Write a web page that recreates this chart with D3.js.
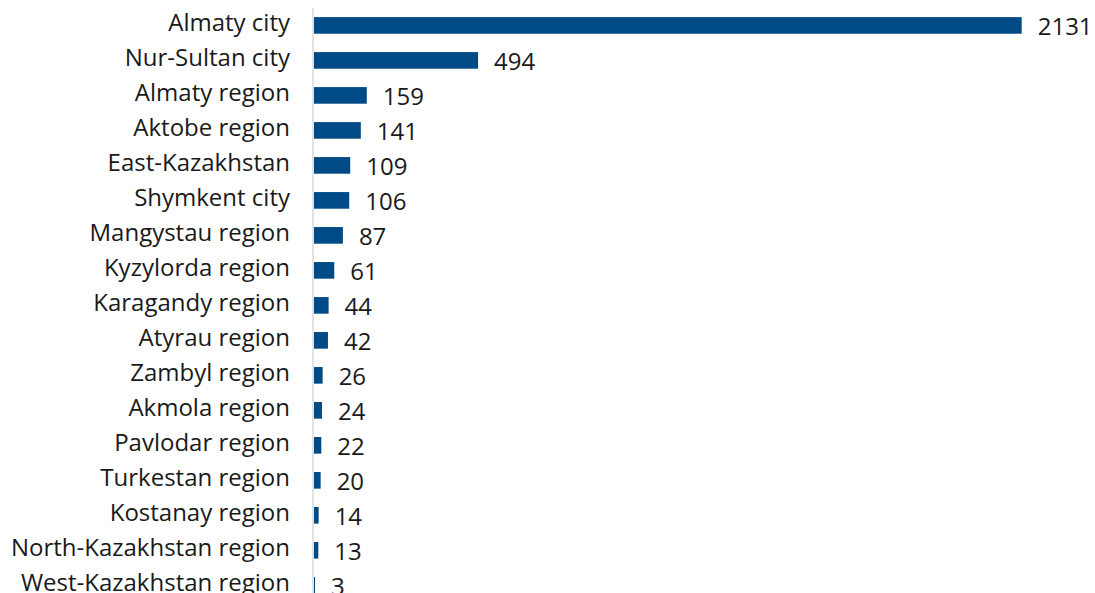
<!DOCTYPE html>
<html>
<head>
<meta charset="utf-8">
<script src="https://cdn.jsdelivr.net/npm/d3@7"></script>
<style>
  html, body { margin: 0; padding: 0; background: #ffffff; }
  svg { display: block; }
  text { font-family: "Open Sans", sans-serif; fill: #1a1a1a; }
</style>
</head>
<body>
<svg id="chart" width="1095" height="593"></svg>
<script>
const categories = [
  "Almaty city", "Nur-Sultan city", "Almaty region", "Aktobe region",
  "East-Kazakhstan", "Shymkent city", "Mangystau region", "Kyzylorda region",
  "Karagandy region", "Atyrau region", "Zambyl region", "Akmola region",
  "Pavlodar region", "Turkestan region", "Kostanay region",
  "North-Kazakhstan region", "West-Kazakhstan region"
];
const values = [2131, 494, 159, 141, 109, 106, 87, 61, 44, 42, 26, 24, 22, 20, 14, 13, 3];

const svg = d3.select("#chart");
const W = 1095, H = 593;
const x0 = 314;

const x = d3.scaleLinear().domain([0, 2131]).range([x0, 1021.7]);
const y = d3.scaleBand().domain(categories).range([7.92, 602.8])
  .paddingInner(0.525).paddingOuter(0.2625);

// bars
svg.append("g").selectAll("rect")
  .data(categories)
  .join("rect")
  .attr("x", x(0))
  .attr("y", d => y(d))
  .attr("width", (d, i) => x(values[i]) - x(0))
  .attr("height", y.bandwidth())
  .attr("fill", "#004a85");

// axis line
svg.append("line")
  .attr("x1", 313).attr("x2", 313)
  .attr("y1", 8).attr("y2", H)
  .attr("stroke", "#d9d9d9").attr("stroke-width", 1.5);

// category labels
svg.append("g").selectAll("text")
  .data(categories)
  .join("text")
  .attr("x", 290)
  .attr("y", d => y(d) + y.bandwidth() / 2 + 6)
  .attr("text-anchor", "end")
  .attr("font-size", 24)
  .text(d => d);

// value labels
svg.append("g").selectAll("text")
  .data(categories)
  .join("text")
  .attr("x", (d, i) => x(values[i]) + 16)
  .attr("y", d => y(d) + y.bandwidth() / 2 + 10)
  .attr("font-size", 24)
  .text((d, i) => values[i]);
</script>
</body>
</html>
